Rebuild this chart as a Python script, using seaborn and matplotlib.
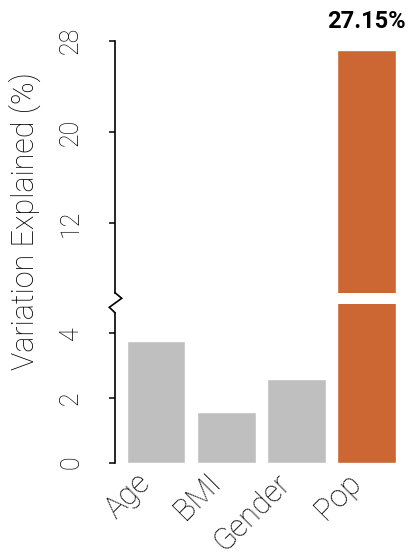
import numpy as np
import pandas as pd
import seaborn as sns
import matplotlib.pyplot as plt
from matplotlib.lines import Line2D

# === dane ===
labels = ["Age", "BMI", "Gender", "Pop"]
values = [3.75, 1.55, 2.6, 27.15]
bar_colors = ["#bfbfbf", "#bfbfbf", "#bfbfbf", "#cc6633"]
low_ticks = [0, 2, 4]
high_ticks = [12, 20, 28]

df = pd.DataFrame({"factor": labels, "var": values})

sns.set_style("white")
plt.rcParams["font.family"] = ["Roboto", "DejaVu Sans"]
plt.rcParams["text.color"] = "black"
plt.rcParams["xtick.color"] = "black"
plt.rcParams["ytick.color"] = "black"

W, H = 415, 559
fig = plt.figure(figsize=(W / 100, H / 100), dpi=100)

left = 115 / W
width = 295 / W
ax_low = fig.add_axes([left, (H - 462.5) / H, width, (462.5 - 303.7) / H])
ax_up = fig.add_axes([left, (H - 292.7) / H, width, (292.7 - 40.7) / H])

for ax in (ax_low, ax_up):
    sns.barplot(data=df, x="factor", y="var", hue="factor", palette=bar_colors,
                width=0.84, saturation=1.0, legend=False, ax=ax)
    ax.set_xlim(-0.584, 3.62)
    ax.set_xlabel("")
    ax.set_ylabel("")
    for s in ["top", "right", "bottom"]:
        ax.spines[s].set_visible(False)
    ax.spines["left"].set_linewidth(1.2)
    ax.spines["left"].set_color("black")
    ax.tick_params(axis="y", left=True, length=4, width=1.1, pad=19,
                   labelsize=18, labelrotation=90, colors="black")

ax_low.set_ylim(0, 4.92)
ax_low.set_yticks(low_ticks)
ax_low.spines["left"].set_bounds(0, 4.64)
ax_up.set_ylim(5.9, 28)
ax_up.set_yticks(high_ticks)
ax_up.spines["left"].set_bounds(5.9, 28)
for ax in (ax_low, ax_up):
    for t in ax.get_yticklabels():
        t.set_fontweight("light")
        t.set_color("black")
        t.set_va("center")

ax_up.set_xticks([])
ax_low.tick_params(axis="x", bottom=False, length=0, pad=4)
ax_low.set_xticks(range(len(labels)))
ax_low.set_xticklabels(labels, rotation=45, ha="right", fontsize=22,
                       fontweight="light", color="black")

# zygzak przerwania osi
zx = np.array([115, 121.7, 109.3, 115]) / W
zy = 1 - np.array([292.7, 298.3, 307.3, 312.7]) / H
fig.add_artist(Line2D(zx, zy, transform=fig.transFigure, color="black",
                      lw=1.2, solid_joinstyle="miter"))

ax_up.annotate(f"{values[3]:.2f}%", xy=(3, values[3]), xytext=(0, 21),
               textcoords="offset points", ha="center", va="center",
               fontsize=17, fontweight="bold", color="black",
               annotation_clip=False)

fig.text(25 / W, 1 - 221 / H, "Variation Explained (%)", rotation=90,
         ha="center", va="center", fontsize=22, fontweight="light",
         color="black")

fig.savefig("out.png", dpi=100)
